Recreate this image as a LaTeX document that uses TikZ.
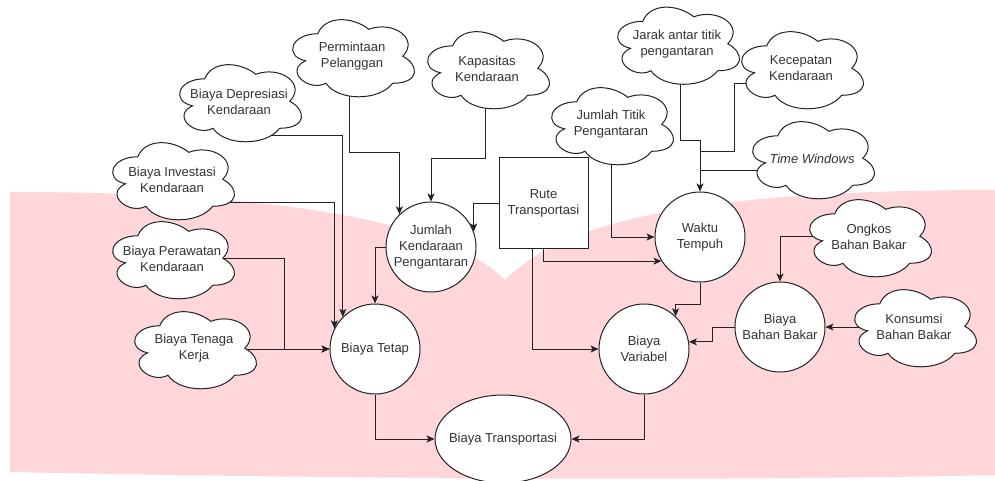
\documentclass[tikz,border=0pt]{standalone}
\usepackage{fontspec}
\setmainfont{Liberation Sans}
\usetikzlibrary{arrows.meta,calc,shapes.geometric}
\pgfdeclarelayer{bg}
\pgfdeclarelayer{edges}
\pgfdeclarelayer{shapes}
\pgfsetlayers{bg,edges,shapes,main}
\definecolor{pinkbg}{HTML}{FFD6DA}
\definecolor{ink}{HTML}{222222}
\begin{document}
\begin{tikzpicture}[x=1pt,y=-1pt,
  every node/.style={font=\fontsize{13}{16}\selectfont, text=black!80, align=center},
  cloudnode/.style={minimum width=136pt, minimum height=90pt, inner sep=0pt},
  cloudline/.style={fill=white, draw=ink, line width=1pt},
  circ/.style={circle, draw=ink, fill=white, line width=1pt, minimum size=90pt, inner sep=0pt},
  ell/.style={ellipse, draw=ink, fill=white, line width=1pt, minimum width=136pt, minimum height=88pt, inner sep=0pt},
  boxnode/.style={rectangle, draw=ink, fill=white, line width=1pt, minimum width=89pt, minimum height=90pt, inner sep=0pt},
  edge/.style={draw=ink, line width=0.9pt},
  arr/.style={edge, -{Stealth[length=8pt,width=7pt,inset=2pt]}}
]
\useasboundingbox (0,0) rectangle (995,481);
\begin{pgfonlayer}{bg}
\fill[pinkbg] (10,472) -- (10,192) .. controls (250,192) and (440,215) .. (505,280)
  .. controls (560,225) and (680,190) .. (995,190) -- (995,475)
  .. controls (700,482) and (300,478) .. (10,472) -- cycle;
\end{pgfonlayer}

% clouds
\node[cloudnode] (perm) at (352,56.5) {Permintaan\\Pelanggan};
\node[cloudnode] (kap) at (487,68.5) {Kapasitas\\Kendaraan};
\node[cloudnode] (dep) at (239,101.5) {Biaya Depresiasi\\Kendaraan};
\node[cloudnode] (inv) at (172,179.5) {Biaya Investasi\\Kendaraan};
\node[cloudnode] (rawat) at (172,258.5) {Biaya Perawatan\\Kendaraan};
\node[cloudnode] (tenaga) at (194,348.5) {Biaya Tenaga\\Kerja};
\node[cloudnode] (jarak) at (677,44) {Jarak antar titik\\pengantaran};
\node[cloudnode] (cepat) at (801,68.5) {Kecepatan\\Kendaraan};
\node[cloudnode] (titik) at (611,124.5) {Jumlah Titik\\Pengantaran};
\node[cloudnode] (tw) at (812,158.5) {\itshape Time Windows};
\node[cloudnode] (ongkos) at (869,236.5) {Ongkos\\Bahan Bakar};
\node[cloudnode] (konsumsi) at (914,326.5) {Konsumsi\\Bahan Bakar};

\begin{pgfonlayer}{shapes}
\foreach \c in {perm,kap,dep,inv,rawat,tenaga,jarak,cepat,titik,tw,ongkos,konsumsi}{
  \filldraw[cloudline, shift={(\c.north west)}, x={(136pt,0pt)}, y={(0pt,-90pt)}]
    (0.25,0.25) .. controls (0.05,0.25) and (0,0.5) .. (0.16,0.55)
    .. controls (0,0.66) and (0.18,0.9) .. (0.31,0.8)
    .. controls (0.4,1) and (0.7,1) .. (0.8,0.8)
    .. controls (1,0.8) and (1,0.6) .. (0.875,0.5)
    .. controls (1,0.3) and (0.8,0.1) .. (0.625,0.2)
    .. controls (0.5,0.05) and (0.3,0.05) .. (0.25,0.25) -- cycle;
}
\end{pgfonlayer}

% circles, box, ellipse
\node[circ] (jk) at (431,247) {Jumlah\\Kendaraan\\Pengantaran};
\node[circ] (bt) at (375,349) {Biaya Tetap};
\node[circ] (wt) at (700,237) {Waktu\\Tempuh};
\node[circ] (bv) at (644,349) {Biaya\\Variabel};
\node[circ] (bbb) at (780,327) {Biaya\\Bahan Bakar};
\node[boxnode] (rute) at (543.5,203) {Rute\\Transportasi};
\node[ell, label=center:{Biaya Transportasi}] (btr) at (503,439) {};

\begin{pgfonlayer}{edges}
\draw[arr] ([xshift=-3pt]perm.center) -- ++(0,95.5) -| (jk.134);
\draw[arr] ([xshift=-2pt]kap.center) -- ++(0,89.5) -| (jk.north);
\draw[arr] ([yshift=-33.5pt]dep.center) -| (bt.135);
\draw[arr] ([yshift=-22.5pt]inv.center) -| (bt.153);
\draw[arr] (rawat.center) -| ([xshift=-45pt]bt.west) -- (bt.west);
\draw[arr] (tenaga.center |- bt.west) -- (bt.west);
\draw[arr] (jk.west) -| (bt.north);
\draw[arr] (rute.west) -| (jk.20);
\draw[arr] ([xshift=3pt]jarak.center) |- ([yshift=51pt]wt.north) -- (wt.north);
\draw[edge] ([yshift=-14.5pt]cepat.center) -| ([xshift=34pt,yshift=40pt]wt.north) -- ([yshift=40pt]wt.north);
\draw[edge] ([yshift=-12pt]tw.center) -- ([yshift=-12pt]tw.center -| wt.north);
\draw[arr] (titik.center) |- (wt.west);
\draw[arr] (rute.south) |- (wt.212);
\draw[arr] ([xshift=-11.5pt]rute.south) |- (bv.west);
\draw[arr] (wt.south) -- ++(0,22) -| (bv.46);
\draw[arr] (bbb.west) -- ++(-22,0) |- (bv.9);
\draw[arr] (ongkos.center) -| (bbb.north);
\draw[arr] (konsumsi.center |- bbb.east) -- (bbb.east);
\draw[arr] (bt.south) |- (btr.west);
\draw[arr] (bv.south) |- (btr.east);
\end{pgfonlayer}
\end{tikzpicture}
\end{document}
